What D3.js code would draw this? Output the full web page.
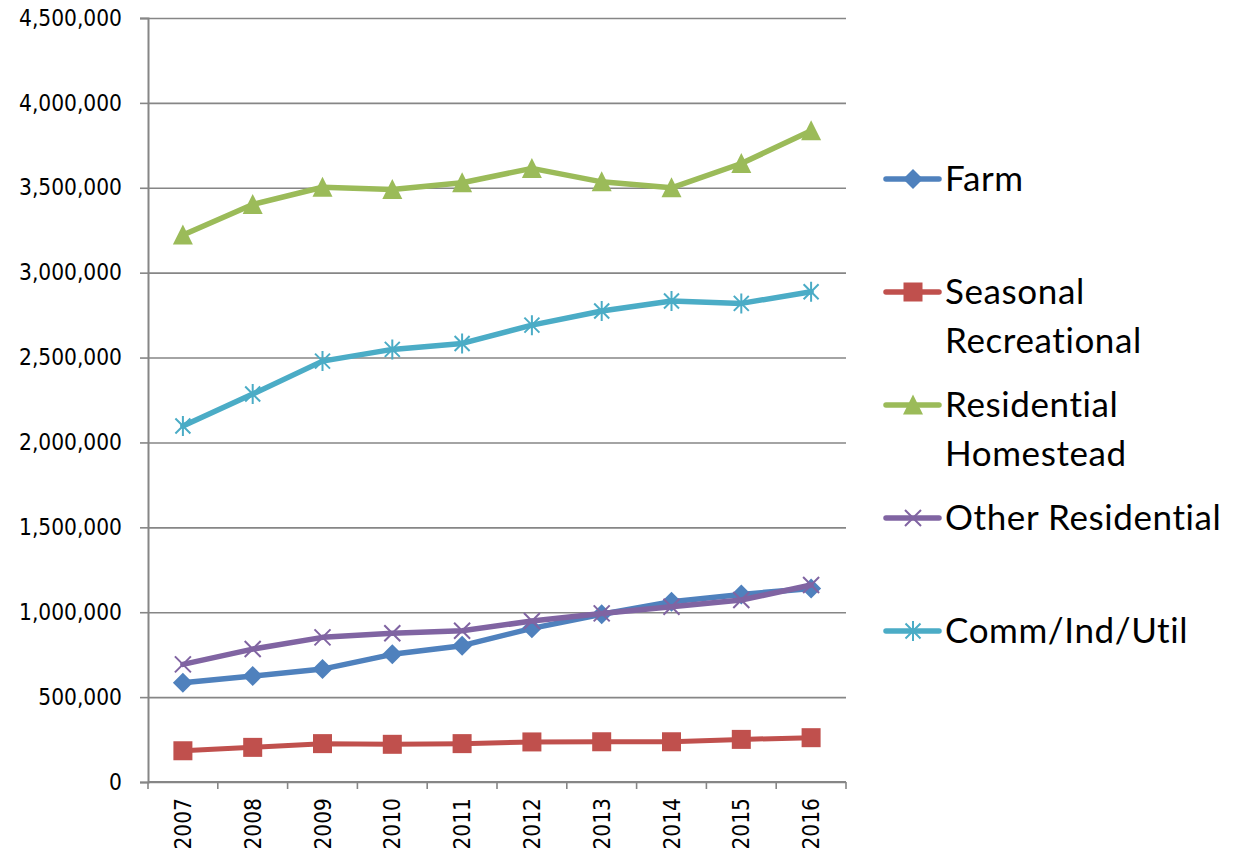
<!DOCTYPE html>
<html>
<head>
<meta charset="utf-8">
<script src="https://cdn.jsdelivr.net/npm/d3@7"></script>
<style>
  html, body { margin: 0; padding: 0; background: #fff; }
  svg { display: block; }
</style>
</head>
<body>
<svg id="chart" width="1245" height="854"></svg>
<script>
// Annual values by property class
const years = ["2007", "2008", "2009", "2010", "2011", "2012", "2013", "2014", "2015", "2016"];
const farm = [585000, 624000, 665000, 752000, 803000, 905000, 988000, 1062000, 1105000, 1140000];
const seasonalRecreational = [184000, 204000, 226000, 222000, 226000, 236000, 237000, 237000, 251000, 261000];
const residentialHomestead = [3222000, 3402000, 3503000, 3490000, 3530000, 3614000, 3535000, 3500000, 3643000, 3836000];
const otherResidential = [693000, 783000, 852000, 876000, 891000, 948000, 993000, 1032000, 1072000, 1160000];
const commIndUtil = [2097000, 2285000, 2479000, 2548000, 2583000, 2691000, 2774000, 2833000, 2819000, 2888000];
const yTicks = [0, 500000, 1000000, 1500000, 2000000, 2500000, 3000000, 3500000, 4000000, 4500000];

const series = [
  { name: ["Farm"], values: farm, color: "#4F81BD", marker: "diamond", width: 5.5 },
  { name: ["Seasonal", "Recreational"], values: seasonalRecreational, color: "#C0504D", marker: "square", width: 5 },
  { name: ["Residential", "Homestead"], values: residentialHomestead, color: "#9BBB59", marker: "triangle", width: 5.5 },
  { name: ["Other Residential"], values: otherResidential, color: "#8064A2", marker: "x", width: 5.5 },
  { name: ["Comm/Ind/Util"], values: commIndUtil, color: "#4BACC6", marker: "star", width: 5.5 }
];

const svg = d3.select("#chart");
const plot = { left: 148, right: 846, top: 18, bottom: 782 };

const x = d3.scaleBand().domain(years).range([plot.left, plot.right]);
const y = d3.scaleLinear().domain([0, 4500000]).range([plot.bottom, plot.top]);
const cx = d => x(d) + x.bandwidth() / 2;

const axisColor = "#868686";
const tickFont = "'DejaVu Sans Condensed', 'DejaVu Sans', Verdana, sans-serif";
const tickSize = 22.5;

// Horizontal gridlines
svg.append("g")
  .attr("transform", `translate(${plot.left},0)`)
  .call(d3.axisLeft(y).tickValues(yTicks).tickSize(-(plot.right - plot.left)).tickFormat(""))
  .call(g => g.select(".domain").remove())
  .call(g => g.selectAll("line").attr("stroke", axisColor).attr("stroke-width", 1.6));

// Y axis
svg.append("g")
  .attr("transform", `translate(${plot.left},0)`)
  .call(d3.axisLeft(y).tickValues(yTicks).tickSize(8).tickPadding(18).tickFormat(d3.format(",")))
  .call(g => g.select(".domain").attr("stroke", axisColor).attr("stroke-width", 2))
  .call(g => g.selectAll("line").attr("stroke", axisColor).attr("stroke-width", 1.6))
  .call(g => g.selectAll("text")
    .attr("fill", "#000")
    .attr("font-family", tickFont)
    .attr("font-stretch", "condensed")
    .attr("font-size", tickSize));

// X axis with ticks on category boundaries
const xAxis = svg.append("g").attr("transform", `translate(0,${plot.bottom})`);
xAxis.append("line")
  .attr("x1", plot.left).attr("x2", plot.right)
  .attr("stroke", axisColor).attr("stroke-width", 2);
const boundaries = years.map(d => x(d)).concat([x.range()[1]]);
xAxis.selectAll("line.tick")
  .data(boundaries)
  .join("line")
  .attr("class", "tick")
  .attr("x1", d => d).attr("x2", d => d)
  .attr("y1", 0).attr("y2", 7)
  .attr("stroke", axisColor).attr("stroke-width", 1.6);
xAxis.selectAll("text")
  .data(years)
  .join("text")
  .attr("transform", d => `translate(${cx(d)},16) rotate(-90)`)
  .attr("text-anchor", "end")
  .attr("dy", "0.36em")
  .attr("font-family", tickFont)
  .attr("font-stretch", "condensed")
  .attr("font-size", tickSize)
  .attr("fill", "#000")
  .text(d => d);

// Marker shapes, centred on the origin
function drawMarker(g, type, color, s) {
  const h = s / 2;
  if (type === "diamond") {
    g.append("path").attr("d", `M0,${-h}L${h},0L0,${h}L${-h},0Z`).attr("fill", color);
  } else if (type === "square") {
    g.append("rect").attr("x", -h * 0.95).attr("y", -h * 0.95).attr("width", s * 0.95).attr("height", s * 0.95).attr("fill", color);
  } else if (type === "triangle") {
    g.append("path").attr("d", `M0,${-h * 1.05}L${h},${h * 0.95}L${-h},${h * 0.95}Z`).attr("fill", color);
  } else if (type === "x") {
    const k = h * 0.8;
    g.append("path").attr("d", `M${-k},${-k}L${k},${k}M${-k},${k}L${k},${-k}`)
      .attr("stroke", color).attr("stroke-width", 2).attr("fill", "none");
  } else if (type === "star") {
    const k = h * 0.75;
    g.append("path").attr("d", `M${-k},${-k}L${k},${k}M${-k},${k}L${k},${-k}M0,${-h}L0,${h}`)
      .attr("stroke", color).attr("stroke-width", 2).attr("fill", "none");
  }
}

const line = d3.line().x((v, i) => cx(years[i])).y(v => y(v));

series.forEach(s => {
  const g = svg.append("g");
  g.append("path")
    .datum(s.values)
    .attr("d", line)
    .attr("fill", "none")
    .attr("stroke", s.color)
    .attr("stroke-width", s.width)
    .attr("stroke-linejoin", "round")
    .attr("stroke-linecap", "round");
  g.selectAll("g.pt")
    .data(s.values)
    .join("g")
    .attr("class", "pt")
    .attr("transform", (v, i) => `translate(${cx(years[i])},${y(v)})`)
    .each(function () { drawMarker(d3.select(this), s.marker, s.color, 20); });
});

// Legend
const legendFont = "Lato, 'Open Sans', sans-serif";
const legend = svg.append("g");
series.forEach((s, i) => {
  const ly = 179 + i * 113;
  const g = legend.append("g").attr("transform", `translate(0,${ly})`);
  g.append("line")
    .attr("x1", 886).attr("x2", 939)
    .attr("stroke", s.color).attr("stroke-width", 5.5).attr("stroke-linecap", "round");
  const m = g.append("g").attr("transform", "translate(913,0)");
  drawMarker(m, s.marker, s.color, 20);
  s.name.forEach((t, j) => {
    g.append("text")
      .attr("x", 945)
      .attr("y", 12 + j * 48.5)
      .attr("font-family", legendFont)
      .attr("font-size", 35)
      .attr("letter-spacing", 0.6)
      .attr("fill", "#000")
      .text(t);
  });
});
</script>
</body>
</html>
